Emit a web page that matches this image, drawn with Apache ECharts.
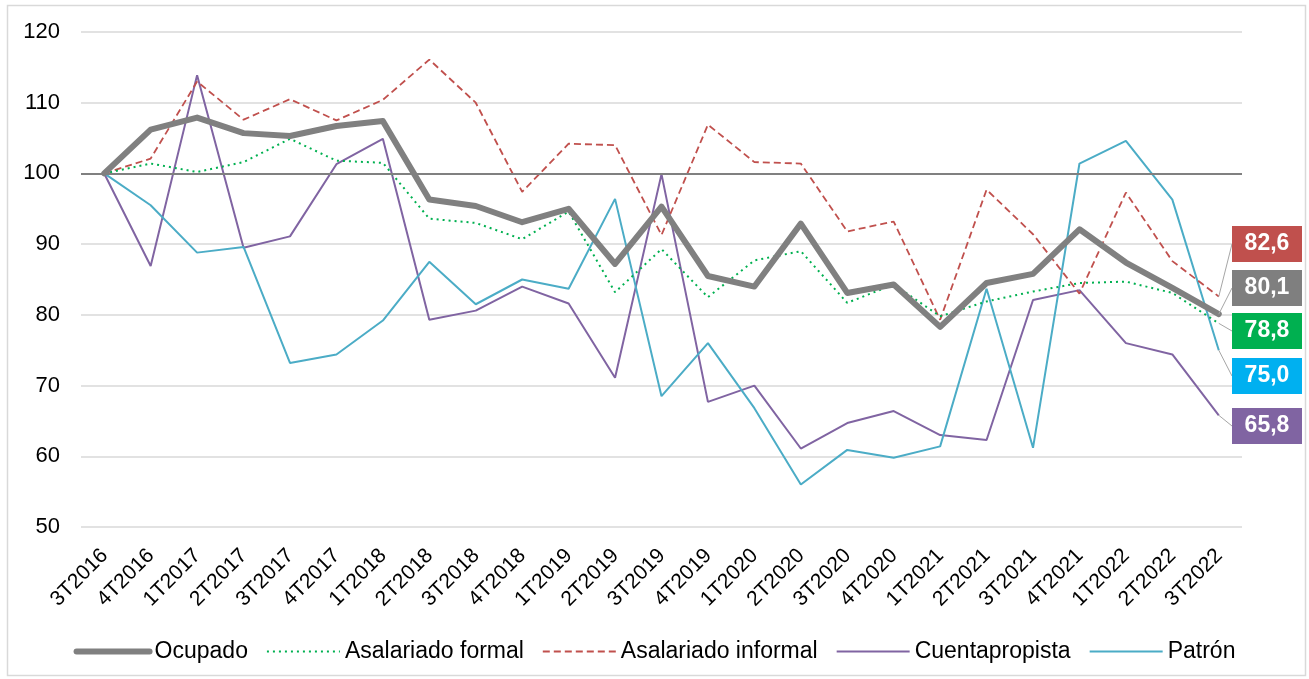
<!DOCTYPE html>
<html>
<head>
<meta charset="utf-8">
<script src="https://cdn.jsdelivr.net/npm/echarts@6/dist/echarts.min.js"></script>
<style>
  html, body { margin: 0; padding: 0; background: #fff; }
  #chart { width: 1309px; height: 679px; }
</style>
</head>
<body>
<div id="chart"></div>
<script>
const categories = ["3T2016", "4T2016", "1T2017", "2T2017", "3T2017", "4T2017", "1T2018", "2T2018", "3T2018", "4T2018",
  "1T2019", "2T2019", "3T2019", "4T2019", "1T2020", "2T2020", "3T2020", "4T2020", "1T2021", "2T2021",
  "3T2021", "4T2021", "1T2022", "2T2022", "3T2022"];

const ocupado = [100, 106.2, 107.9, 105.7, 105.3, 106.7, 107.4, 96.3, 95.4, 93.1, 95.0, 87.2, 95.3, 85.5, 84.0,
  92.9, 83.1, 84.3, 78.3, 84.5, 85.8, 92.1, 87.4, 83.8, 80.1];
const asalariadoFormal = [100, 101.4, 100.2, 101.6, 104.9, 101.8, 101.5, 93.6, 93.0, 90.7, 94.6, 83.2, 89.3, 82.5, 87.7,
  89.0, 81.7, 84.3, 79.8, 81.9, 83.3, 84.5, 84.7, 83.1, 78.8];
const asalariadoInformal = [100, 102.1, 113.0, 107.6, 110.5, 107.5, 110.4, 116.1, 110.0, 97.4, 104.2, 104.0, 91.3, 106.9, 101.6,
  101.4, 91.8, 93.2, 79.3, 97.7, 91.4, 83.0, 97.3, 87.6, 82.6];
const cuentapropista = [100, 86.9, 113.9, 89.5, 91.1, 101.3, 104.9, 79.3, 80.6, 84.0, 81.6, 71.1, 99.9, 67.7, 70.0,
  61.1, 64.7, 66.4, 63.0, 62.3, 82.1, 83.5, 76.0, 74.4, 65.8];
const patron = [100, 95.5, 88.8, 89.6, 73.2, 74.4, 79.2, 87.5, 81.5, 85.0, 83.7, 96.4, 68.5, 76.0, 66.8,
  56.0, 60.9, 59.8, 61.4, 83.7, 61.2, 101.4, 104.6, 96.3, 75.0];

const yTicks = [50, 60, 70, 80, 90, 100, 110, 120];
const baseline = 100;

const FONT = "'Liberation Sans', Arial, sans-serif";
const chart = echarts.init(document.getElementById("chart"), null, { renderer: "canvas" });

// end label: value box on the right with a thin leader line
const makeSeries = (name, values, color, boxColor, lineStyle, labelCenterY, z) => {
  const last = values.length - 1;
  return {
    name,
    type: "line",
    z,
    symbol: "none",
    silent: true,
    animation: false,
    lineStyle: { color, ...lineStyle },
    itemStyle: { color },
    data: values.map((v, i) =>
      i === last
        ? {
            value: v,
            symbol: "circle",
            symbolSize: 0,
            label: {
              show: true,
              formatter: (p) => p.value.toFixed(1).replace(".", ","),
              color: "#fff",
              fontFamily: FONT,
              fontWeight: "bold",
              fontSize: 23,
              lineHeight: 24,
              backgroundColor: boxColor,
              padding: [6, 12, 6, 12],
              width: 46,
              align: "center",
            },
            labelLine: { show: true, lineStyle: { color: "#A6A6A6", width: 1 } },
          }
        : v
    ),
    labelLayout: (params) =>
      params.dataIndex === last
        ? { x: 1267, y: labelCenterY, align: "center", verticalAlign: "middle" }
        : {},
  };
};

const series = [
  makeSeries("Ocupado", ocupado, "#808080", "#7F7F7F", { width: 6, cap: "round", join: "round" }, 288, 5),
  makeSeries("Asalariado formal", asalariadoFormal, "#00B050", "#00B050", { width: 2, type: [2, 4] }, 331, 4),
  makeSeries("Asalariado informal", asalariadoInformal, "#C0504D", "#C0504D", { width: 1.8, type: [7, 4] }, 244, 3),
  makeSeries("Cuentapropista", cuentapropista, "#8064A2", "#8064A2", { width: 2 }, 426, 2),
  makeSeries("Patrón", patron, "#4BACC6", "#00B0F0", { width: 2 }, 376, 2),
];

// horizontal line at the base value
series[0].markLine = {
  silent: true,
  symbol: "none",
  label: { show: false },
  lineStyle: { color: "#808080", width: 2, type: "solid" },
  data: [{ yAxis: baseline }],
};

chart.setOption({
  backgroundColor: "#fff",
  animation: false,
  graphic: [
    {
      type: "rect",
      shape: { x: 7.5, y: 5.5, width: 1298, height: 670 },
      style: { fill: "none", stroke: "#D9D9D9", lineWidth: 1.5 },
      silent: true,
    },
  ],
  grid: { left: 81, right: 67, top: 32, bottom: 152, containLabel: false },
  legend: {
    top: 635,
    left: "center",
    itemWidth: 73,
    itemHeight: 12,
    itemGap: 18,
    itemStyle: { opacity: 0 },
    lineStyle: { width: "inherit" },
    textStyle: { fontFamily: FONT, fontSize: 23, color: "#000" },
    data: series.map((s) => s.name),
  },
  xAxis: {
    type: "category",
    data: categories,
    boundaryGap: true,
    axisLine: { show: false },
    axisTick: { show: false },
    axisLabel: {
      interval: 0,
      rotate: 45,
      margin: 11,
      padding: [0, 10, 0, 0],
      verticalAlign: "top",
      color: "#000",
      fontFamily: FONT,
      fontSize: 21,
    },
  },
  yAxis: {
    type: "value",
    min: yTicks[0],
    max: yTicks[yTicks.length - 1],
    interval: 10,
    axisLine: { show: false },
    axisTick: { show: false },
    splitLine: { lineStyle: { color: "#D9D9D9", width: 1.5 } },
    axisLabel: { color: "#000", fontFamily: FONT, fontSize: 22, margin: 21 },
  },
  series,
});
</script>
</body>
</html>
